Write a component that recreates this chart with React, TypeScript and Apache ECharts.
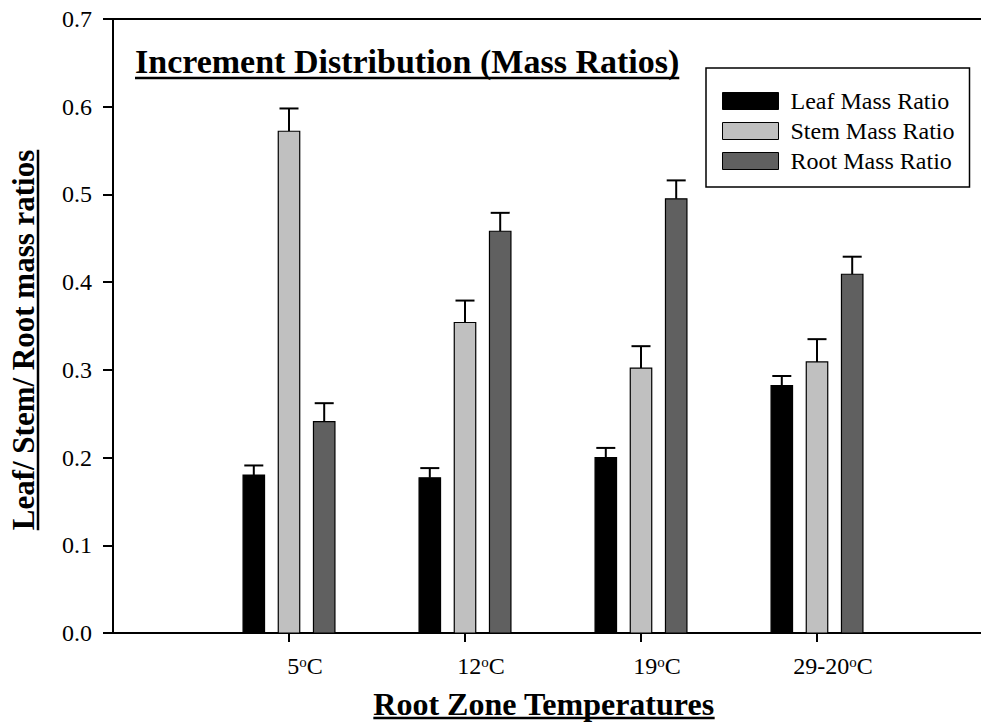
import React, { useEffect, useRef } from "react";
import * as echarts from "echarts";

const categories = ["5", "12", "19", "29-20"];
const seriesNames = ["Leaf Mass Ratio", "Stem Mass Ratio", "Root Mass Ratio"];
const leafValues = [0.18, 0.177, 0.2, 0.282];
const leafErrors = [0.011, 0.011, 0.011, 0.011];
const stemValues = [0.572, 0.354, 0.302, 0.309];
const stemErrors = [0.026, 0.025, 0.025, 0.026];
const rootValues = [0.241, 0.458, 0.495, 0.409];
const rootErrors = [0.021, 0.021, 0.021, 0.02];

const chartTitle = "Increment Distribution (Mass Ratios)";
const xTitle = "Root Zone Temperatures";
const yTitle = "Leaf/ Stem/ Root mass ratios";

const FONT = '"Liberation Serif", "Times New Roman", Times, serif';
const COLORS = ["#000000", "#c0c0c0", "#606060"];
const OFFSETS = [-0.2, 0, 0.2];
const BAR_W = 0.122;
const CAP_W = 0.108;

function measure(text: string, font: string) {
  const ctx = document.createElement("canvas").getContext("2d");
  if (!ctx) return text.length * 15;
  ctx.font = font;
  return ctx.measureText(text).width;
}

function makeSeries(name: string, values: number[], errors: number[], idx: number) {
  const color = COLORS[idx];
  const offset = OFFSETS[idx];
  return {
    type: "custom",
    name,
    clip: false,
    itemStyle: { color, borderColor: "#000", borderWidth: 1 },
    encode: { x: 0, y: 1 },
    data: values.map((v, i) => [i + 1, v, errors[i]]),
    renderItem: (params: any, api: any) => {
      const xv = api.value(0) + offset;
      const yv = api.value(1);
      const err = api.value(2);
      const base = api.coord([xv, 0]);
      const top = api.coord([xv, yv]);
      const errTop = api.coord([xv, yv + err]);
      const w = api.size([BAR_W, 0])[0];
      const cw = api.size([CAP_W, 0])[0];
      return {
        type: "group",
        children: [
          {
            type: "line",
            shape: { x1: top[0], y1: top[1], x2: errTop[0], y2: errTop[1] },
            style: { stroke: "#000", lineWidth: 2 },
          },
          {
            type: "line",
            shape: { x1: errTop[0] - cw / 2, y1: errTop[1], x2: errTop[0] + cw / 2, y2: errTop[1] },
            style: { stroke: "#000", lineWidth: 2 },
          },
          {
            type: "rect",
            shape: { x: base[0] - w / 2, y: top[1], width: w, height: base[1] - top[1] },
            style: { fill: color, stroke: "#000", lineWidth: 1.2 },
          },
        ],
      };
    },
  };
}

function underlined(fontSize: number, lineHeight: number) {
  return {
    t: { fontSize, fontWeight: "bold", fontFamily: FONT, color: "#000", lineHeight },
    hr: { width: "100%", height: 0, borderColor: "#000", borderWidth: 2.5, lineHeight: 4 },
  };
}

export default function App() {
  const ref = useRef<HTMLDivElement>(null);
  useEffect(() => {
    if (!ref.current) return;
    const chart = echarts.init(ref.current, null, { renderer: "svg" });
    const axisLineStyle = { color: "#000", width: 2 };
    const xTitleW = measure(xTitle, `bold 32px ${FONT}`);
    const yTitleW = measure(yTitle, `bold 31px ${FONT}`);
    const option: any = {
      animation: false,
      backgroundColor: "#fff",
      title: {
        text: `{t|${chartTitle}}\n{hr|}`,
        left: 135,
        top: 46,
        padding: 0,
        textStyle: { rich: underlined(34, 30) },
      },
      graphic: [
        {
          type: "text",
          x: 544 - xTitleW / 2,
          y: 692,
          style: {
            text: `{t|${xTitle}}\n{hr|}`,
            align: "left",
            verticalAlign: "top",
            rich: underlined(32, 24),
          },
        },
        {
          type: "text",
          x: 11,
          y: 340 + yTitleW / 2,
          rotation: Math.PI / 2,
          style: {
            text: `{t|${yTitle}}\n{hr|}`,
            align: "left",
            verticalAlign: "top",
            rich: underlined(31, 25),
          },
        },
      ],
      legend: {
        orient: "vertical",
        left: 706,
        top: 68,
        padding: [21, 15, 14, 16],
        borderColor: "#000",
        borderWidth: 1.5,
        itemWidth: 56,
        itemHeight: 17,
        itemGap: 6,
        icon: "rect",
        selectedMode: false,
        textStyle: { fontSize: 24, fontFamily: FONT, color: "#000", lineHeight: 24, padding: [0, 0, 0, 7] },
        data: seriesNames.map((n, i) => ({
          name: n,
          itemStyle: { color: COLORS[i], borderColor: "#000", borderWidth: 1 },
        })),
      },
      grid: {
        left: 113,
        top: 19,
        right: -12,
        bottom: 90,
        show: true,
        borderColor: "#000",
        borderWidth: 2,
        backgroundColor: "transparent",
        containLabel: false,
        outerBoundsMode: "none",
      },
      xAxis: {
        type: "value",
        min: 0,
        max: 5,
        interval: 1,
        axisLine: { show: true, lineStyle: axisLineStyle },
        axisTick: { show: true, customValues: [1, 2, 3, 4], length: 9, lineStyle: axisLineStyle },
        splitLine: { show: false },
        axisLabel: {
          customValues: [1, 2, 3, 4],
          margin: 21,
          padding: [0, 0, 0, 32],
          formatter: (v: number) => `{n|${categories[Math.round(v) - 1]}}{s|o}{n|C}`,
          rich: {
            n: { fontSize: 24, fontFamily: FONT, color: "#000", lineHeight: 24 },
            s: { fontSize: 15, fontFamily: FONT, color: "#000", lineHeight: 15, verticalAlign: "top" },
          },
        },
      },
      yAxis: {
        type: "value",
        min: 0,
        max: 0.7,
        interval: 0.1,
        axisLine: { show: true, lineStyle: axisLineStyle },
        axisTick: { show: true, length: 10, lineStyle: axisLineStyle },
        splitLine: { show: false },
        axisLabel: {
          margin: 21,
          fontSize: 24,
          fontFamily: FONT,
          color: "#000",
          formatter: (v: number) => v.toFixed(1),
        },
      },
      series: [
        makeSeries(seriesNames[0], leafValues, leafErrors, 0),
        makeSeries(seriesNames[1], stemValues, stemErrors, 1),
        makeSeries(seriesNames[2], rootValues, rootErrors, 2),
      ],
    };
    chart.setOption(option);
    return () => chart.dispose();
  }, []);
  return (
    <div
      ref={ref}
      style={{ position: "fixed", left: 0, top: 0, width: 981, height: 723, background: "#fff" }}
    />
  );
}
